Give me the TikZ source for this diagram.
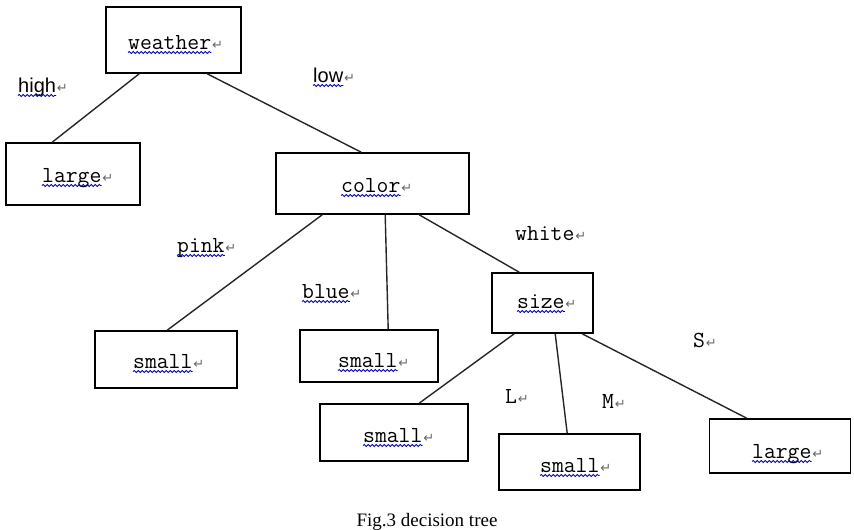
\documentclass[tikz,border=0pt]{standalone}
\usepackage{fontspec}
\usetikzlibrary{decorations.pathmorphing,calc}
\newfontfamily\dejavu{DejaVu Sans}
\newfontfamily\capfont{Liberation Serif}
\newfontfamily\arialf{Liberation Sans}
\tikzset{
  box/.style={draw, line width=1.6pt, rectangle, inner sep=0pt},
  edge/.style={line width=1.4pt, black!85},
  wordtext/.style={anchor=base west, inner sep=0pt, font=\fontsize{23}{23}\selectfont\ttfamily},
  sanstext/.style={font=\fontsize{20}{20}\selectfont\arialf},
  retmark/.style={anchor=base west, inner sep=0pt, xshift=0.5pt, text=black!60, font=\fontsize{13}{13}\selectfont\dejavu},
  wavy/.style={draw=blue!75!black, line width=0.8pt, decorate, decoration={snake, amplitude=1.1pt, segment length=4pt}},
}
\newcommand\wlabel[5]{%
  \node[wordtext,#4] (#1) at (#2,#3) {#5};
  \node[retmark] (#1r) at (#1.base east) {↵};}
\newcommand\uline[1]{%
  \draw[wavy] ([yshift=-3.5pt]#1.base west) -- ([yshift=-3.5pt]#1.base east);}
\begin{document}
\begin{tikzpicture}[x=1pt,y=-1pt]
\useasboundingbox (0,0) rectangle (854,530);
% boxes
\node[box, minimum width=135pt, minimum height=66pt] (bweather) at (173.5,40) {};
\node[box, minimum width=134pt, minimum height=62pt] (blargeL) at (73,174) {};
\node[box, minimum width=193pt, minimum height=61pt] (bcolor) at (372.5,183.5) {};
\node[box, minimum width=142pt, minimum height=57pt] (bsmallA) at (166,359.5) {};
\node[box, minimum width=138pt, minimum height=52pt] (bsmallB) at (369,356) {};
\node[box, minimum width=101pt, minimum height=60pt] (bsize) at (542.5,303) {};
\node[box, minimum width=148pt, minimum height=57pt] (bsmallC) at (394,432.5) {};
\node[box, minimum width=141pt, minimum height=56pt] (bsmallD) at (569.5,462) {};
\node[box, minimum width=141pt, minimum height=54pt] (blargeR) at (780,446) {};
% box texts
\wlabel{tweather}{128}{49}{}{weather}
\wlabel{tlargeL}{42}{182}{}{large}
\wlabel{tcolor}{341}{192}{}{color}
\wlabel{tsmallA}{133}{368}{}{small}
\wlabel{tsmallB}{338}{367}{}{small}
\wlabel{tsize}{517}{308}{}{size}
\wlabel{tsmallC}{363}{442}{}{small}
\wlabel{tsmallD}{540}{472}{}{small}
\wlabel{tlargeR}{752}{458}{}{large}
\uline{tweather}\uline{tlargeL}\uline{tcolor}\uline{tsmallA}\uline{tsmallB}
\uline{tsize}\uline{tsmallC}\uline{tsmallD}\uline{tlargeR}
% edge labels
\wlabel{lhigh}{18}{92}{sanstext}{high}
\wlabel{llow}{313}{82}{sanstext}{low}
\wlabel{lpink}{177}{252}{}{pink}
\wlabel{lblue}{302}{298}{}{blue}
\wlabel{lwhite}{515}{240}{}{white}
\wlabel{lS}{693}{347}{}{S}
\wlabel{lL}{505}{403}{}{L}
\wlabel{lM}{602}{408}{}{M}
\uline{lhigh}\uline{llow}\uline{lpink}\uline{lblue}
% edges
\draw[edge] ([xshift=34pt]bweather.south west) -- ([xshift=47pt]blargeL.north west);
\draw[edge] ([xshift=102pt]bweather.south west) -- ([xshift=86pt]bcolor.north west);
\draw[edge] ([xshift=47pt]bcolor.south west) -- ([xshift=73pt]bsmallA.north west);
\draw[edge] ([xshift=110pt]bcolor.south west) -- ([xshift=89pt]bsmallB.north west);
\draw[edge] ([xshift=144pt]bcolor.south west) -- ([xshift=28pt]bsize.north west);
\draw[edge] ([xshift=23pt]bsize.south west) -- ([xshift=100pt]bsmallC.north west);
\draw[edge] ([xshift=64pt]bsize.south west) -- ([xshift=69pt]bsmallD.north west);
\draw[edge] ([xshift=91pt]bsize.south west) -- ([xshift=38pt]blargeR.north west);
% caption
\node[anchor=base, inner sep=0pt, font=\fontsize{19}{19}\selectfont\capfont] (caption) at (427,526) {Fig.3 decision tree};
\end{tikzpicture}
\end{document}
